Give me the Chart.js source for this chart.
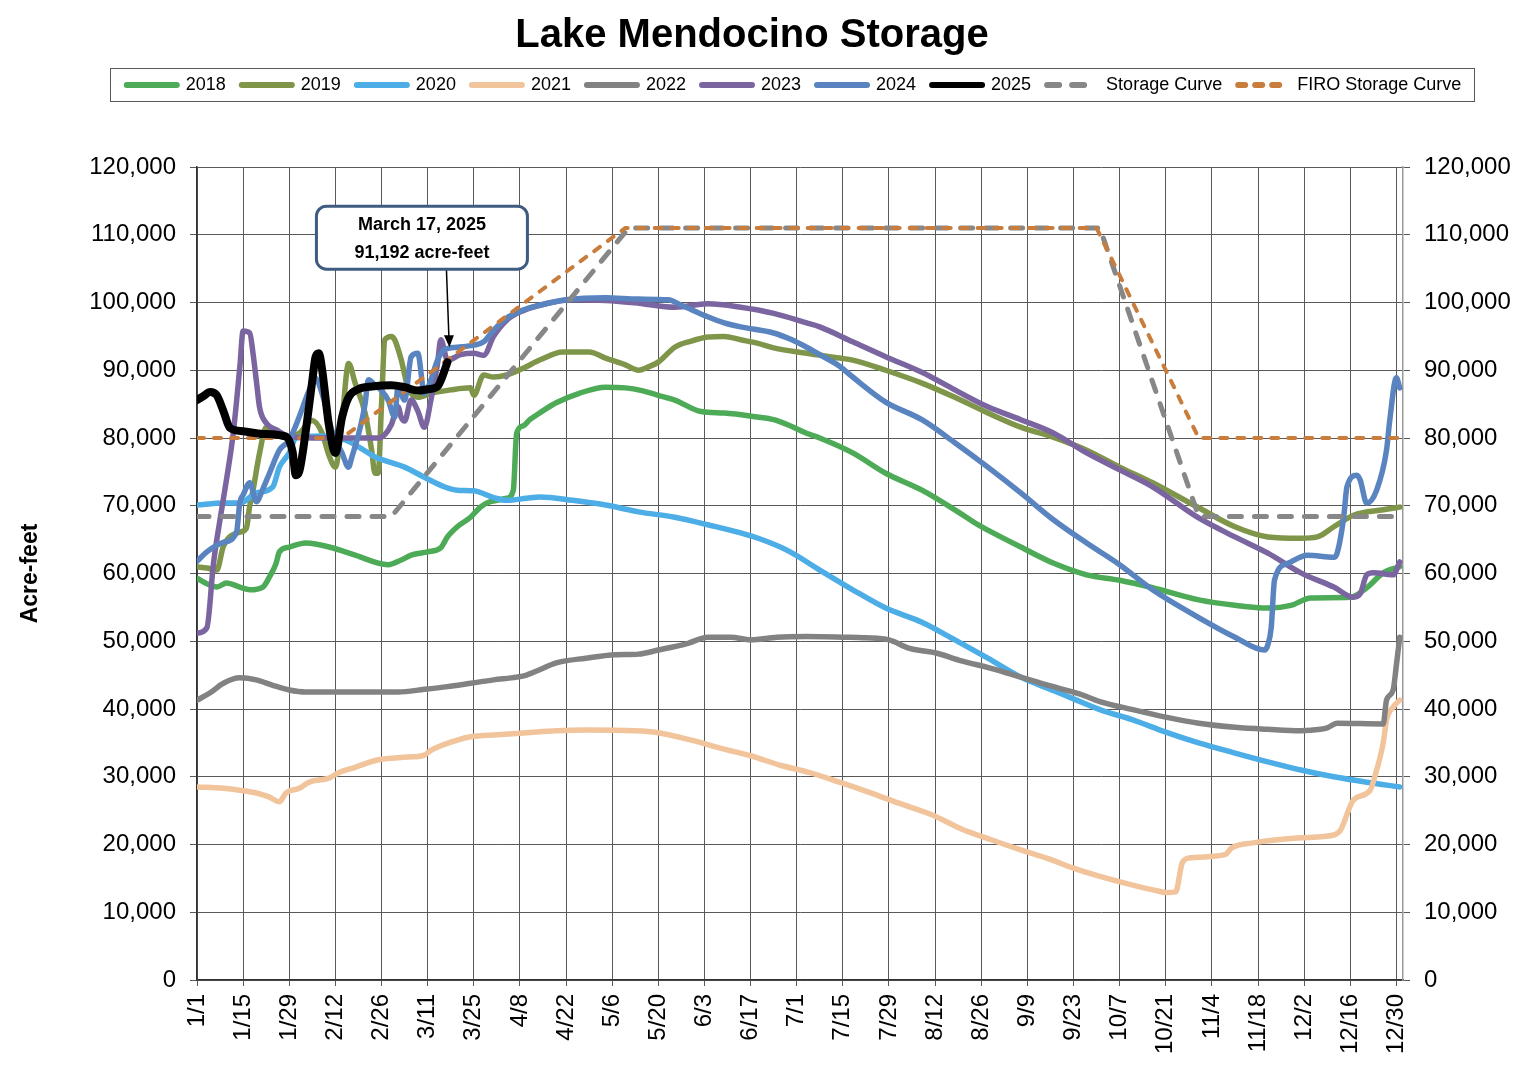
<!DOCTYPE html>
<html>
<head>
<meta charset="utf-8">
<title>Lake Mendocino Storage</title>
<script src="https://cdn.jsdelivr.net/npm/chart.js@4.4.1/dist/chart.umd.min.js"></script>
<style>
  html, body { margin: 0; padding: 0; background: #fff; }
  #chart { display: block; }
</style>
</head>
<body>
<canvas id="chart" width="1538" height="1072"></canvas>
<script>
// x = day of year on a leap-year calendar (0 = 1/1), y = acre-feet
const tickDays = [0, 14, 28, 42, 56, 70, 84, 98, 112, 126, 140, 154, 168, 182, 196, 210, 224, 238, 252, 266, 280, 294, 308, 322, 336, 350, 364];
const tickLabels = ['1/1', '1/15', '1/29', '2/12', '2/26', '3/11', '3/25', '4/8', '4/22', '5/6', '5/20', '6/3', '6/17', '7/1', '7/15', '7/29', '8/12', '8/26', '9/9', '9/23', '10/7', '10/21', '11/4', '11/18', '12/2', '12/16', '12/30'];

const s2018 = [[0,59300],[3,58500],[6,58000],[9,58600],[13,58000],[16,57600],[20,58000],[22,59500],[24,61500],[25,63200],[28,63900],[33,64500],[41,63800],[48,62700],[58,61300],[62,62000],[65,62700],[70,63200],[74,63800],[76,65400],[79,66900],[83,68300],[86,69800],[89,70600],[94,71100],[96,72300],[97,80700],[99,81800],[101,82700],[104,83700],[109,85200],[116,86600],[124,87500],[130,87400],[135,87000],[140,86300],[145,85600],[153,83900],[160,83700],[170,83100],[175,82700],[180,81800],[185,80700],[189,80000],[199,77800],[209,74800],[220,72300],[230,69400],[237,67200],[240,66400],[250,63900],[260,61500],[270,59800],[280,59000],[290,57900],[304,56100],[315,55300],[325,54900],[332,55300],[338,56400],[350,56500],[355,57900],[360,60100],[365,61000]];

const s2019 = [[0,61000],[3,60800],[6,60500],[8,64000],[13,66100],[15,66700],[16,70000],[17,72300],[19,77800],[21,81600],[24,81200],[28,80000],[31,80700],[35,82600],[38,80700],[40,77500],[42,75700],[44,82600],[46,91000],[48,88100],[51,83700],[53,78200],[54,74800],[55,74800],[56,85000],[57,94500],[59,95000],[60,94500],[62,91500],[64,87500],[67,86000],[71,86600],[77,87100],[83,87400],[84,86300],[87,89300],[90,89000],[94,89300],[99,90300],[104,91500],[111,92700],[119,92700],[124,91800],[130,90800],[134,90000],[137,90500],[140,91200],[145,93400],[150,94300],[155,94900],[160,95000],[165,94500],[170,94000],[175,93300],[185,92500],[195,91800],[199,91500],[209,90000],[220,88100],[230,86000],[240,83700],[250,81600],[260,80100],[270,78200],[280,75700],[290,73400],[304,69700],[315,66900],[325,65400],[335,65200],[340,65400],[345,66900],[351,68600],[360,69400],[365,69800]];

const s2020 = [[0,70100],[8,70400],[13,70400],[18,71900],[23,72800],[25,75700],[28,77800],[30,80000],[38,80300],[45,79700],[50,78400],[54,77200],[58,76500],[63,75700],[69,74200],[75,72800],[79,72300],[84,72200],[90,71200],[94,70800],[100,71100],[104,71300],[114,70800],[124,70100],[134,69100],[145,68300],[155,67200],[165,66000],[172,64900],[180,63200],[189,60500],[199,57600],[209,54900],[220,52800],[230,50200],[240,47500],[250,44700],[260,42700],[266,41500],[274,39900],[284,38400],[294,36600],[304,35000],[315,33500],[325,32200],[335,31000],[345,30000],[355,29200],[365,28500]];

const s2021 = [[0,28500],[8,28300],[13,28000],[18,27600],[22,27000],[25,26300],[27,27600],[31,28300],[34,29200],[40,29800],[43,30600],[48,31400],[55,32500],[64,32900],[69,33200],[71,33900],[79,35400],[83,35900],[91,36200],[100,36500],[109,36800],[118,36900],[133,36800],[140,36500],[150,35400],[159,34200],[168,33100],[177,31700],[186,30600],[195,29200],[204,27700],[213,26100],[223,24400],[232,22300],[241,20700],[250,19200],[259,17800],[266,16500],[274,15300],[284,14000],[292,13100],[294,12900],[297,13000],[299,17300],[301,18000],[312,18500],[314,19500],[320,20200],[335,21000],[345,21400],[347,22100],[351,26600],[356,28000],[358,31000],[360,35000],[361,38400],[363,40300],[365,41300]];

const s2022 = [[0,41300],[4,42400],[8,43800],[13,44600],[18,44300],[23,43500],[28,42800],[33,42500],[61,42500],[69,42900],[76,43300],[83,43800],[90,44300],[97,44700],[100,45000],[104,45800],[109,46800],[118,47500],[127,48000],[134,48100],[140,48700],[149,49700],[155,50600],[162,50600],[168,50200],[176,50600],[185,50700],[196,50600],[203,50500],[210,50200],[216,49000],[220,48600],[224,48300],[232,47100],[241,46000],[250,44700],[259,43400],[268,42200],[274,41100],[284,39900],[294,38800],[304,37900],[315,37300],[325,37000],[335,36800],[341,37000],[343,37200],[346,37900],[360,37800],[361,41300],[363,42800],[364,46500],[365,50600]];

const s2023 = [[0,51200],[3,52000],[5,61500],[7,68000],[9,74000],[11,80700],[13,90500],[14,95800],[16,95500],[17,92500],[18,88500],[19,84500],[21,82200],[24,81200],[28,80200],[35,80000],[45,80000],[55,80000],[57,80500],[59,82000],[61,84600],[62,83000],[63,82500],[65,85600],[67,84000],[69,81600],[71,85600],[73,91000],[74,94500],[76,91500],[80,92300],[84,92500],[87,92200],[90,95000],[94,97400],[99,98800],[104,99600],[114,100400],[124,100300],[134,99900],[145,99300],[155,99800],[165,99300],[175,98400],[185,97000],[189,96400],[199,94200],[209,92000],[220,89700],[230,87100],[240,84600],[250,82700],[260,80700],[270,77800],[280,75300],[290,72800],[304,68200],[315,65400],[325,63000],[335,60100],[345,58000],[351,56500],[353,57000],[355,59800],[357,60100],[363,59800],[365,61700]];

const s2024 = [[0,61800],[3,63200],[8,64600],[12,66100],[13,70500],[14,71600],[16,73400],[18,70600],[20,72500],[22,74800],[25,78200],[28,79700],[31,83100],[34,87000],[36,88800],[38,86500],[41,81000],[44,77800],[46,75700],[47,77200],[49,80500],[51,85000],[52,88600],[54,87800],[56,87000],[58,85600],[60,83100],[61,87500],[63,85600],[65,92000],[67,92500],[69,86600],[71,88600],[73,91500],[75,93000],[79,93400],[84,93700],[87,94200],[90,95900],[94,97700],[99,98900],[104,99600],[112,100400],[124,100700],[134,100500],[143,100400],[147,99600],[155,97900],[160,97000],[165,96400],[175,95500],[180,94600],[185,93400],[189,92300],[195,90600],[199,89000],[209,85300],[220,82700],[230,79300],[240,75700],[250,71900],[260,67900],[270,64500],[280,61300],[290,57600],[304,53500],[315,50600],[324,48700],[325,49500],[326,52000],[327,59000],[331,61500],[337,62700],[345,62400],[346,63000],[348,68300],[349,72800],[352,74500],[353,73800],[355,70400],[358,72300],[361,78200],[362,82700],[364,88900],[365,87400]];

const s2025 = [[0,85600],[2,86200],[4,86800],[6,86300],[8,84000],[10,81500],[14,81000],[20,80600],[27,80200],[29,78000],[30,74500],[31,75000],[33,81000],[35,88500],[36,92000],[37,92500],[38,90000],[40,82000],[42,77800],[44,83000],[46,86000],[49,87200],[53,87600],[59,87800],[63,87500],[67,87000],[70,87200],[73,87600],[74,88500],[76,91192]];

const storageCurve = [[0,68400],[59,68400],[131,111000],[274,111000],[304,68400],[365,68400]];
const firoCurve = [[0,80000],[44,80000],[130,111000],[273,111000],[304,80000],[365,80000]];

Chart.defaults.font.family = '"Liberation Sans", Arial, sans-serif';
Chart.defaults.color = '#000';

function line(label, points, color, width, order, extra) {
    return Object.assign({
        label: label,
        data: points.map(p => ({ x: p[0], y: p[1] })),
        borderColor: color,
        backgroundColor: color,
        borderWidth: width,
        pointRadius: 0,
        borderCapStyle: 'round',
        borderJoinStyle: 'round',
        cubicInterpolationMode: 'monotone',
        order: order
    }, extra || {});
}

// push the legend down so the plot starts where the original does
const legendGap = {
    id: 'legendGap',
    beforeInit(chart) {
        const fit = chart.legend.fit;
        chart.legend.fit = function () {
            fit.call(this);
            this.height += 63;
        };
    }
};

// title sits a little left of centre and the legend a little right, like the Excel original
const headerNudge = {
    id: 'headerNudge',
    afterLayout(chart) {
        chart.titleBlock.left -= 17;
        chart.titleBlock.right -= 17;
        chart.legend.left += 25;
        chart.legend.right += 25;
    },
    afterDraw(chart) {
        const boxes = chart.legend.legendHitBoxes;
        if (!boxes || !boxes.length) return;
        const last = boxes[boxes.length - 1];
        const l = boxes[0].left - 17;
        const r = last.left + last.width + 13;
        const t = boxes[0].top - 8;
        const b = boxes[0].top + boxes[0].height + 7;
        const ctx = chart.ctx;
        ctx.save();
        ctx.strokeStyle = '#595959';
        ctx.lineWidth = 1;
        ctx.strokeRect(Math.round(l) + 0.5, Math.round(t) + 0.5, Math.round(r - l), Math.round(b - t));
        ctx.restore();
    }
};

// callout for the latest 2025 reading
const callout = {
    id: 'callout',
    afterDatasetsDraw(chart) {
        const { ctx, scales: { x, y } } = chart;
        const latest = s2025[s2025.length - 1];
        const px = x.getPixelForValue(latest[0]);
        const py = y.getPixelForValue(latest[1]);
        const date = new Date(2024, 0, 1 + latest[0]);
        const dateText = date.toLocaleDateString('en-US', { month: 'long', day: 'numeric' }) + ', 2025';
        const valueText = latest[1].toLocaleString('en-US') + ' acre-feet';
        const w = 211, h = 63;
        const left = px - 131, top = py - 156;

        ctx.save();
        ctx.strokeStyle = '#000';
        ctx.fillStyle = '#000';
        ctx.lineWidth = 1.5;
        ctx.beginPath();
        ctx.moveTo(px - 1, top + h);
        ctx.lineTo(px + 1.5, py - 24);
        ctx.stroke();
        ctx.beginPath();
        ctx.moveTo(px + 2, py - 15);
        ctx.lineTo(px - 3.5, py - 27);
        ctx.lineTo(px + 6.5, py - 27);
        ctx.closePath();
        ctx.fill();

        ctx.beginPath();
        ctx.roundRect(left, top, w, h, 10);
        ctx.fillStyle = '#fff';
        ctx.fill();
        ctx.lineWidth = 3;
        ctx.strokeStyle = '#3f5b80';
        ctx.stroke();

        ctx.fillStyle = '#000';
        ctx.font = 'bold 18px "Liberation Sans", Arial, sans-serif';
        ctx.textAlign = 'center';
        ctx.textBaseline = 'middle';
        ctx.fillText(dateText, left + w / 2, top + 19);
        ctx.fillText(valueText, left + w / 2, top + 47);
        ctx.restore();
    }
};

const yTicks = {
    stepSize: 10000,
    padding: 14,
    color: '#000',
    font: { size: 24 },
    callback: v => v.toLocaleString('en-US')
};

new Chart(document.getElementById('chart'), {
    type: 'line',
    data: {
        datasets: [
            line('2018', s2018, '#4dab57', 5.5, 9),
            line('2019', s2019, '#7f9549', 5.5, 8),
            line('2020', s2020, '#4dade6', 5.5, 7),
            line('2021', s2021, '#f1c49c', 5.5, 6),
            line('2022', s2022, '#828282', 5.5, 5),
            line('2023', s2023, '#7a65a0', 5.5, 4),
            line('2024', s2024, '#5a84c0', 5.5, 3),
            line('2025', s2025, '#000000', 8, 0),
            line('Storage Curve', storageCurve, '#878787', 5, 2, { borderDash: [12, 13], cubicInterpolationMode: 'default', tension: 0 }),
            line('FIRO Storage Curve', firoCurve, '#c97d3c', 4, 1, { borderDash: [7, 10], cubicInterpolationMode: 'default', tension: 0 })
        ]
    },
    options: {
        responsive: false,
        animation: false,
        events: [],
        layout: { padding: 0 },
        plugins: {
            title: {
                display: true,
                text: 'Lake Mendocino Storage',
                color: '#000',
                font: { size: 40, weight: 'bold' },
                padding: { top: 12, bottom: 0 }
            },
            legend: {
                labels: {
                    usePointStyle: true,
                    pointStyle: 'line',
                    pointStyleWidth: 50,
                    boxHeight: 18,
                    padding: 16,
                    color: '#000',
                    font: { size: 18 },
                    sort: (a, b) => a.datasetIndex - b.datasetIndex,
                    // thick round-capped samples, dashed where the series is dashed
                    generateLabels: chart => Chart.defaults.plugins.legend.labels.generateLabels(chart).map(item => {
                        const ds = chart.data.datasets[item.datasetIndex];
                        return Object.assign(item, {
                            strokeStyle: ds.borderColor,
                            lineWidth: 6,
                            lineCap: 'round',
                            lineDash: ds.borderDash || []
                        });
                    })
                }
            },
            tooltip: { enabled: false }
        },
        scales: {
            x: {
                type: 'linear',
                min: 0,
                max: 366,
                afterBuildTicks: scale => { scale.ticks = tickDays.map(v => ({ value: v })); },
                afterFit: scale => { scale.height = 92; },
                ticks: {
                    autoSkip: false,
                    minRotation: 90,
                    maxRotation: 90,
                    padding: 8,
                    color: '#000',
                    font: { size: 24 },
                    callback: v => tickLabels[tickDays.indexOf(v)]
                },
                grid: { color: '#595959', lineWidth: 1, tickLength: 6 },
                border: { color: '#333', width: 1.5 }
            },
            y: {
                position: 'left',
                min: 0,
                max: 120000,
                afterFit: scale => { scale.width = 197; },
                ticks: yTicks,
                grid: { color: '#595959', lineWidth: 1, tickLength: 7 },
                border: { color: '#333', width: 1.5 },
                title: {
                    display: true,
                    text: 'Acre-feet',
                    color: '#000',
                    font: { size: 23, weight: 'bold' },
                    padding: { top: 17, bottom: 0 }
                }
            },
            y2: {
                position: 'right',
                min: 0,
                max: 120000,
                afterFit: scale => { scale.width = 135; },
                ticks: yTicks,
                grid: { drawOnChartArea: false, color: '#595959', tickLength: 7 },
                border: { color: '#999', width: 1.5 }
            }
        }
    },
    plugins: [legendGap, headerNudge, callout]
});
</script>
</body>
</html>
